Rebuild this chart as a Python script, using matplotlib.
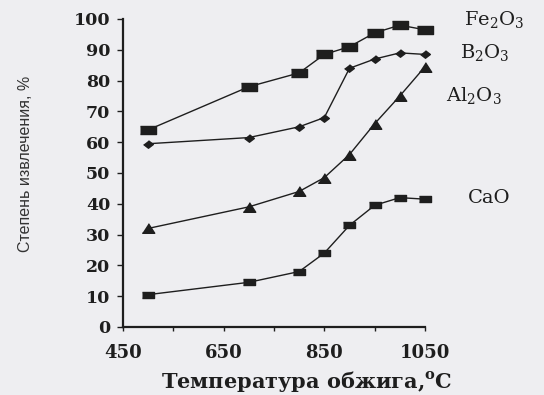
import numpy as np
import matplotlib
matplotlib.use("Agg")
from matplotlib import pyplot as plt

# temperatures, C
temp = [500, 700, 800, 850, 900, 950, 1000, 1050]

# extraction degree, %
fe2o3 = [64, 78, 82.5, 88.5, 91, 95.5, 98, 96.5]
b2o3 = [59.5, 61.5, 65, 68, 84, 87, 89, 88.5]
al2o3 = [32, 39, 44, 48.5, 56, 66, 75, 84.5]
cao = [10.5, 14.5, 18, 24, 33, 39.5, 42, 41.5]

names = ['Fe$_\\mathregular{2}$O$_\\mathregular{3}$', 'B$_\\mathregular{2}$O$_\\mathregular{3}$',
         'Al$_\\mathregular{2}$O$_\\mathregular{3}$', 'CaO']
label_x = [1128, 1120, 1092, 1135]
label_y = [99.5, 89, 75, 42]

xticks = [450, 650, 850, 1050]
xminor = [550, 750, 950]
yticks = list(range(0, 101, 10))

serif = 'DejaVu Serif'
bg = '#eeeef1'
ink = '#1e1e1e'

plt.rcParams['mathtext.fontset'] = 'custom'
fig = plt.figure(figsize=(5.44, 3.95), dpi=100, facecolor=bg)
ax = fig.add_axes([0.2261, 0.1722, 0.5551, 0.7797])
ax.set_facecolor(bg)

fe_sq = [(-1.8, -1), (1.8, -1), (1.8, 1), (-1.8, 1)]
ca_sq = [(-2.2, -1), (2.2, -1), (2.2, 1), (-2.2, 1)]
dia = [(-1.3, 0), (0, -1), (1.3, 0), (0, 1)]
tri = [(-1.3, -1), (1.3, -1), (0, 1)]

ax.plot(temp, fe2o3, color=ink, lw=1.0, marker=fe_sq, ms=11.5, mfc=ink, mec=ink, clip_on=False)
ax.plot(temp, b2o3, color=ink, lw=1.0, marker=dia, ms=7, mfc=ink, mec=ink, clip_on=False)
ax.plot(temp, al2o3, color=ink, lw=1.0, marker=tri, ms=9, mfc=ink, mec=ink, clip_on=False)
ax.plot(temp, cao, color=ink, lw=1.0, marker=ca_sq, ms=9, mfc=ink, mec=ink, clip_on=False)

for n, lx, ly in zip(names, label_x, label_y):
    ax.text(lx, ly, n, fontsize=14, fontfamily=serif, color=ink, va='center', ha='left', clip_on=False)

ax.set_xlim(450, 1050)
ax.set_ylim(0, 100)
ax.set_xticks(xticks)
ax.set_xticks(xminor, minor=True)
ax.set_yticks(yticks)
ax.set_xticklabels([str(t) for t in xticks], fontfamily=serif, fontweight='bold', fontsize=13, color=ink)
ax.set_yticklabels([str(t) for t in yticks], fontfamily=serif, fontweight='bold', fontsize=12.5, color=ink)
ax.tick_params(axis='y', direction='out', length=4, width=1, pad=5, colors=ink)
ax.tick_params(axis='x', which='both', direction='out', length=3, width=1, pad=9, colors=ink)

for s in ['top', 'right']:
    ax.spines[s].set_visible(False)
for s in ['left', 'bottom']:
    ax.spines[s].set_linewidth(1.6)
    ax.spines[s].set_color(ink)

fig.text(0.046, 0.585, 'Степень извлечения, %', rotation=90, fontsize=11.5,
         fontfamily='Liberation Sans', color='#333333', ha='center', va='center')
fig.text(0.564, 0.035, 'Температура обжига,$^\\mathregular{o}$C', fontsize=15,
         fontfamily=serif, fontweight='bold', color=ink, ha='center', va='center')

fig.savefig('out.png', dpi=100, facecolor=bg)
